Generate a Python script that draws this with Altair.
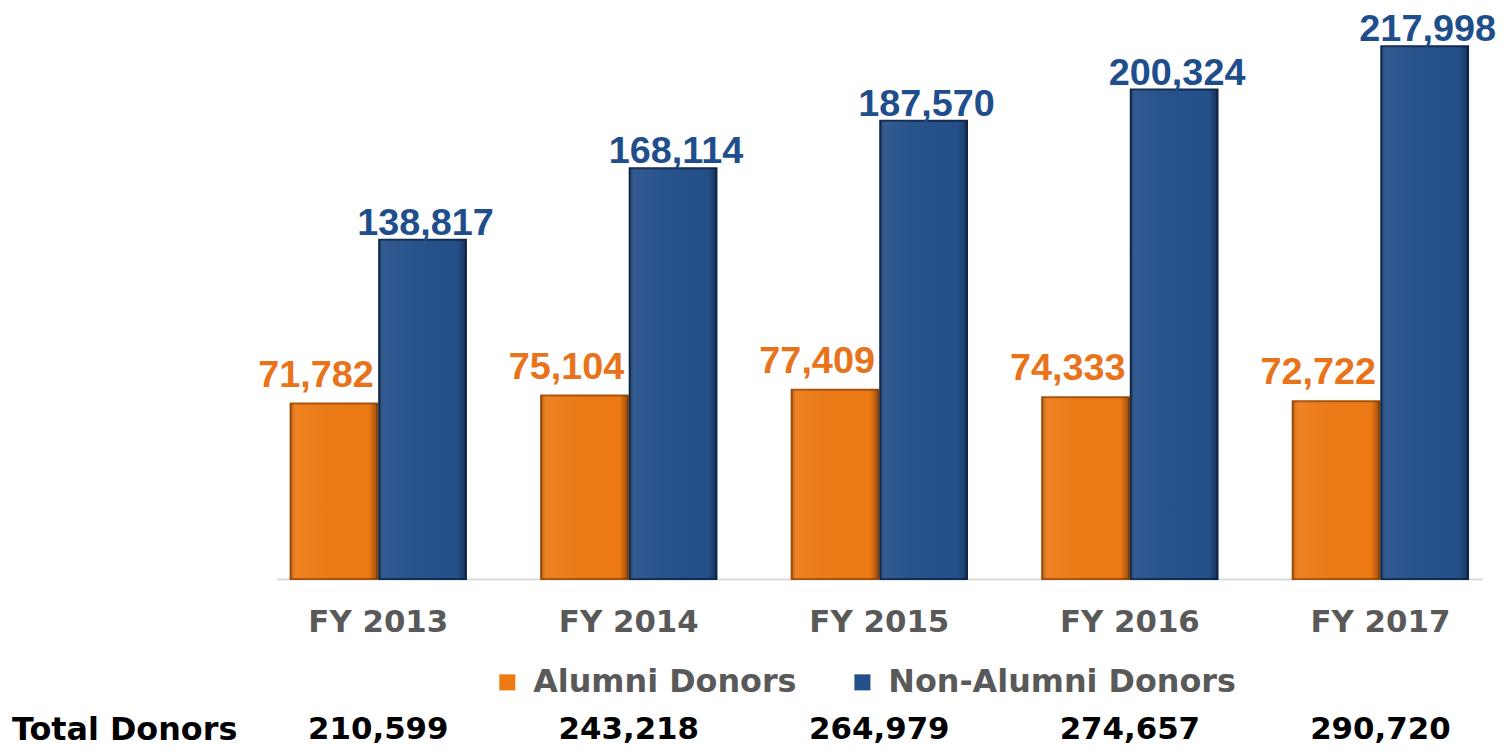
import altair as alt
import pandas as pd

years = ["FY 2013", "FY 2014", "FY 2015", "FY 2016", "FY 2017"]
series = ["Alumni Donors", "Non-Alumni Donors"]
alumni = [71782, 75104, 77409, 74333, 72722]
non_alumni = [138817, 168114, 187570, 200324, 217998]
totals = [210599, 243218, 264979, 274657, 290720]
total_label = ["Total Donors"]

rows = []
for i, y in enumerate(years):
    rows.append({"year": y, "series": series[0], "value": alumni[i]})
    rows.append({"year": y, "series": series[1], "value": non_alumni[i]})
df = pd.DataFrame(rows)
tot_df = pd.DataFrame({"year": years, "total": totals})
lab_df = pd.DataFrame({"label": total_label})

bar_colors = ["#EE7A14", "#24508A"]
edge_colors = ["#A8520A", "#102B50"]
text_colors = ["#E8731A", "#1F4E8C"]

WIDE = "DejaVu Sans"
ARIAL = "Liberation Sans"

x_enc = alt.X(
    "year:N",
    sort=years,
    scale=alt.Scale(paddingInner=0.30, paddingOuter=0.056),
    axis=alt.Axis(
        title=None, labelAngle=0, labelFont=WIDE, labelFontSize=31,
        labelFontWeight="bold", labelColor="#595959", ticks=False,
        domainColor="#D9D9D9", domainWidth=2, labelPadding=29,
    ),
)
xo_enc = alt.XOffset("series:N", sort=series, scale=alt.Scale(paddingInner=0.02))
y_enc = alt.Y("value:Q", scale=alt.Scale(domain=[0, 228000], nice=False), axis=None)

base = alt.Chart(df)

bars = base.mark_bar(strokeWidth=2).encode(
    x=x_enc,
    xOffset=xo_enc,
    y=y_enc,
    color=alt.Color(
        "series:N",
        scale=alt.Scale(domain=series, range=bar_colors),
        legend=alt.Legend(
            title=None, orient="none", legendX=216, legendY=648,
            direction="horizontal", symbolType="square", symbolSize=260,
            symbolStrokeWidth=0, labelFont=WIDE, labelFontSize=32,
            labelFontWeight="bold", labelColor="#595959", labelOffset=10,
            columnPadding=50, labelLimit=600,
        ),
    ),
    stroke=alt.Stroke("series:N", scale=alt.Scale(domain=series, range=edge_colors), legend=None),
)

shade = base.mark_bar(
    color={
        "gradient": "linear", "x1": 0, "x2": 1, "y1": 0, "y2": 0,
        "stops": [
            {"offset": 0, "color": "rgba(0,0,0,0.22)"},
            {"offset": 0.07, "color": "rgba(255,255,255,0.06)"},
            {"offset": 0.9, "color": "rgba(0,0,0,0)"},
            {"offset": 1, "color": "rgba(0,0,0,0.35)"},
        ],
    }
).encode(
    x=alt.X("year:N", sort=years),
    xOffset=alt.XOffset("series:N", sort=series),
    y=alt.Y("value:Q"),
)


def value_labels(name, color, dx, dy):
    return base.transform_filter(alt.datum.series == name).mark_text(
        dx=dx, dy=dy, baseline="alphabetic", font=ARIAL, fontSize=38,
        fontWeight="bold", color=color,
    ).encode(
        x=alt.X("year:N", sort=years),
        xOffset=alt.XOffset("series:N", sort=series),
        y=alt.Y("value:Q"),
        text=alt.Text("value:Q", format=","),
    )


labels_a = value_labels(series[0], text_colors[0], -18, -17)
labels_n = value_labels(series[1], text_colors[1], 3, -5)

tot_text = alt.Chart(tot_df).mark_text(
    font=WIDE, fontSize=31, fontWeight="bold", color="#000000", baseline="middle"
).encode(
    x=alt.X("year:N", sort=years),
    y=alt.value(712),
    text=alt.Text("total:Q", format=","),
)

tot_label = alt.Chart(lab_df).mark_text(
    font=WIDE, fontSize=32, fontWeight="bold", color="#000000",
    align="left", baseline="middle",
).encode(
    x=alt.value(-266),
    y=alt.value(712),
    text="label:N",
)

chart = (
    alt.layer(bars, shade, labels_a, labels_n, tot_text, tot_label)
    .properties(
        width=1212, height=560,
        padding={"left": 270, "top": 12, "right": 16, "bottom": 167},
        autosize=alt.AutoSizeParams(type="none"),
        background="white",
    )
    .configure_view(stroke="transparent", strokeWidth=0)
)

chart.save("out.html", embed_options={"renderer": "svg", "actions": False})
